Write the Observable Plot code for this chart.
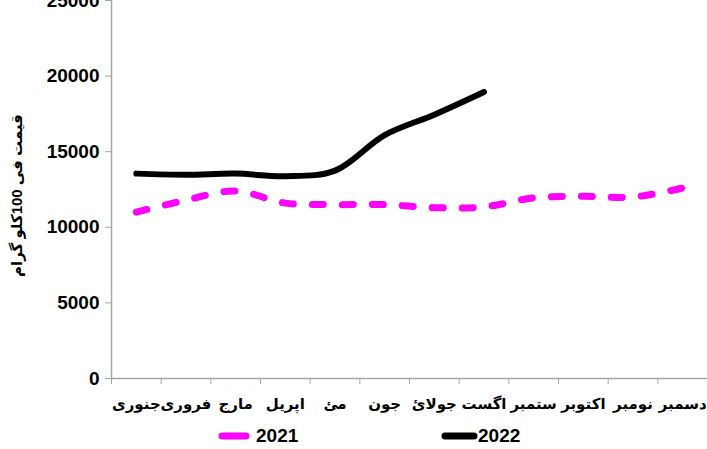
<!DOCTYPE html>
<html>
<head>
<meta charset="utf-8">
<script src="https://cdn.jsdelivr.net/npm/d3@7"></script>
<script src="https://cdn.jsdelivr.net/npm/@observablehq/plot@0.6"></script>
<style>
  body { margin: 0; background: white; font-family: "Liberation Sans", Arial, "DejaVu Sans", sans-serif; }
  #legend { position: relative; height: 31px; width: 707px; }
  .item { position: absolute; top: 7px; display: flex; align-items: center; font-weight: bold; font-size: 19px; }
</style>
</head>
<body>
<div id="chart"></div>
<div id="legend"></div>
<script>
const months = ["جنوری", "فروری", "مارج", "اپریل", "مئ", "جون", "جولائ", "اگست", "ستمبر", "اکتوبر", "نومبر", "دسمبر"];
const values2021 = [11000, 11800, 12400, 11600, 11500, 11500, 11300, 11350, 11950, 12050, 12000, 12600];
const values2022 = [13550, 13480, 13550, 13380, 13750, 16100, 17450, 18950];
const yTicks = [0, 5000, 10000, 15000, 20000, 25000];
const yLabel = "قیمت فی 100کلو گرام";
const seriesNames = ["2021", "2022"];

const data2021 = values2021.map((v, i) => ({m: i + 1, v}));
const data2022 = values2022.map((v, i) => ({m: i + 1, v}));
const monthIdx = months.map((_, i) => i + 1);
const bounds = [0.5, ...monthIdx.map(i => i + 0.5)];

const font = "Liberation Sans, Arial, DejaVu Sans, sans-serif";
const axisGray = "#a6a6a6";

const chart = Plot.plot({
  width: 707,
  height: 418,
  marginLeft: 111,
  marginRight: 0,
  marginTop: 0,
  marginBottom: 40,
  style: {fontFamily: font, background: "white"},
  x: {domain: [0.5, 12.5]},
  y: {domain: [0, 25000]},
  marks: [
    Plot.ruleX([0.5], {stroke: axisGray, strokeWidth: 1.5}),
    Plot.ruleY([0], {stroke: axisGray, strokeWidth: 1.5}),
    Plot.axisY({ticks: yTicks, tickSize: 6, tickPadding: 6, stroke: axisGray, tickFormat: d => String(d),
      fontSize: 19, fontWeight: "bold", fill: "black", label: null}),
    Plot.axisX({ticks: bounds, tickSize: 6, stroke: axisGray, tickFormat: () => "", label: null}),
    Plot.axisX({ticks: monthIdx, tickSize: 0, tickPadding: 20, tickFormat: i => months[i - 1],
      fontSize: 15, fontWeight: "bold", fill: "black", label: null}),
    Plot.line(data2021, {x: "m", y: "v", stroke: "#ff00ff", strokeWidth: 7, strokeDasharray: "11,19",
      strokeLinecap: "round", curve: "catmull-rom"}),
    Plot.line(data2022, {x: "m", y: "v", stroke: "black", strokeWidth: 6,
      strokeLinecap: "round", curve: "catmull-rom"}),
    Plot.text([yLabel], {frameAnchor: "left", textAnchor: "middle", rotate: -90, dx: -94, dy: 6,
      fontSize: 15, fontWeight: "bold", fill: "black"})
  ]
});
document.getElementById("chart").appendChild(chart);

const legend = document.getElementById("legend");
const items = [
  {name: seriesNames[0], color: "#ff00ff", left: 218, lineW: 24, gap: 6},
  {name: seriesNames[1], color: "black", left: 441, lineW: 29, gap: 0}
];
for (const it of items) {
  const div = document.createElement("div");
  div.className = "item";
  div.style.left = it.left + "px";
  div.innerHTML = `<svg width="${it.lineW + 8}" height="12"><line x1="4" y1="6" x2="${it.lineW + 4}" y2="6" stroke="${it.color}" stroke-width="7" stroke-linecap="round"/></svg><span style="margin-left:${it.gap}px">${it.name}</span>`;
  legend.appendChild(div);
}
</script>
</body>
</html>
